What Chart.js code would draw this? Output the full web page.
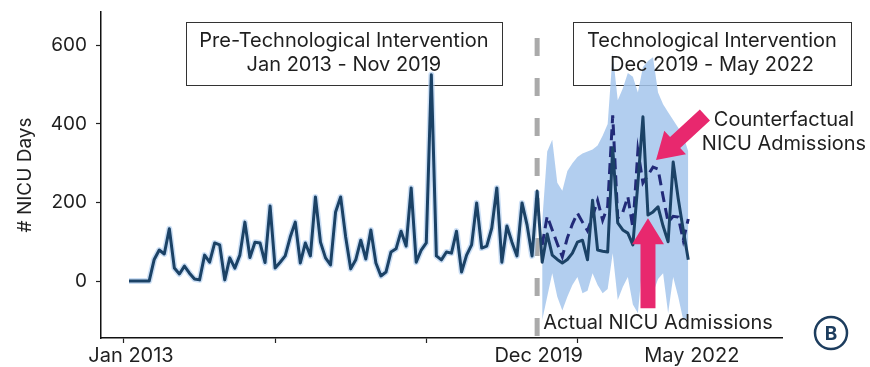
<!DOCTYPE html>
<html>
<head>
<meta charset="utf-8">
<script src="https://cdn.jsdelivr.net/npm/chart.js@4.4.1/dist/chart.umd.min.js"></script>
<style>
  html, body { margin: 0; padding: 0; background: #ffffff; }
  #wrap { width: 870px; height: 367px; }
</style>
</head>
<body>
<div id="wrap"><canvas id="nicu" width="870" height="367"></canvas></div>
<script>
// Monthly NICU days, index 0 = Jan 2013
const actualDays = [
  0, 0, 0, 0, 0, 55, 79, 69, 133, 33,
  18, 38, 20, 5, 3, 66, 48, 97, 92, 3,
  59, 33, 66, 150, 60, 99, 97, 47, 191, 33,
  48, 64, 112, 150, 46, 97, 64, 214, 99, 59,
  41, 176, 214, 112, 31, 54, 104, 56, 130, 46,
  13, 23, 74, 82, 127, 89, 237, 48, 79, 97,
  525, 64, 54, 74, 71, 127, 23, 66, 92, 199,
  84, 89, 135, 237, 48, 140, 99, 64, 199, 143,
  64, 229,
  // technological intervention period
  48, 120, 66, 55, 46, 55, 71, 99, 104, 54,
  206, 79, 76, 74, 339, 148, 130, 122, 92, 250,
  418, 168, 176, 189, 140, 100, 303, 210, 130, 54
];

// First month of the intervention period (index into actualDays)
const forecastStart = 82;
// Last month before the intervention
const interventionIndex = 81;

// Counterfactual forecast and its interval, from forecastStart on
const counterfactualDays = [
  92, 165, 130, 95, 62, 110, 145, 173, 150, 128,
  165, 205, 155, 190, 422, 160, 175, 215, 136, 332,
  250, 270, 290, 285, 215, 150, 165, 163, 104, 158
];
const counterfactualUpper = [
  150, 330, 360, 250, 230, 280, 300, 316, 325, 330,
  335, 345, 370, 400, 580, 460, 490, 530, 520, 480,
  545, 560, 570, 480, 450, 430, 410, 390, 370, 330
];
const counterfactualLower = [
  -100, -40, 20, -40, -75, -40, -10, 10, -31, -25,
  20, -10, -31, -20, 71, -48, -15, 10, -60, -82,
  54, -20, -31, 5, 20, -82, 10, -40, -99, -95
];

// Axis ticks and date labels
const yTickValues = [0, 200, 400, 600];
const xTickValues = [-1, 29, 59, 89];
const dateLabels = ['Jan 2013', 'Dec 2019', 'May 2022'];
const dateLabelMonths = [0.4, 81.3, 111.7];

const FONT = 'Inter, "Noto Sans", sans-serif';
const TEXT = '#1f1f1f';
const PINK = '#e8286e';

const toPoints = (values, start) => values.map((v, i) => ({ x: start + i, y: v }));

// Period boxes (x in months, y in NICU days)
const periodBoxes = [
  { x0: 11.3, x1: 74, lines: ['Pre-Technological Intervention', 'Jan 2013 - Nov 2019'] },
  { x0: 88.1, x1: 143.3, lines: ['Technological Intervention', 'Dec 2019 - May 2022'] }
];
const boxTop = 660, boxBottom = 499;

const annotations = {
  id: 'annotations',
  beforeDatasetsDraw(chart) {
    const { ctx, scales: { x, y } } = chart;
    ctx.save();

    // Intervention start marker
    const px = x.getPixelForValue(interventionIndex);
    ctx.strokeStyle = '#aaaaaa';
    ctx.lineWidth = 5;
    ctx.setLineDash([18, 22]);
    ctx.beginPath();
    ctx.moveTo(px, 38);
    ctx.lineTo(px, y.bottom);
    ctx.stroke();
    ctx.setLineDash([]);

    // Box frames sit under the data
    periodBoxes.forEach(b => {
      const l = x.getPixelForValue(b.x0), r = x.getPixelForValue(b.x1);
      const t = y.getPixelForValue(boxTop), btm = y.getPixelForValue(boxBottom);
      ctx.strokeStyle = '#333333';
      ctx.lineWidth = 1;
      ctx.strokeRect(Math.round(l) + 0.5, Math.round(t) + 0.5, Math.round(r - l), Math.round(btm - t));
    });
    ctx.restore();
  },
  afterDatasetsDraw(chart) {
    const { ctx, scales: { x, y } } = chart;
    ctx.save();
    ctx.textAlign = 'center';
    ctx.textBaseline = 'middle';

    periodBoxes.forEach(b => {
      const l = x.getPixelForValue(b.x0), r = x.getPixelForValue(b.x1);
      const t = y.getPixelForValue(boxTop);
      const cx = (l + r) / 2;
      ctx.fillStyle = TEXT;
      ctx.font = '20px ' + FONT;
      ctx.fillText(b.lines[0], cx, t + 19);
      ctx.fillText(b.lines[1], cx, t + 43);
    });

    // Block arrows
    const arrow = (tipX, tipY, tailX, tailY) => {
      const x1 = x.getPixelForValue(tipX), y1 = y.getPixelForValue(tipY);
      const x0 = x.getPixelForValue(tailX), y0 = y.getPixelForValue(tailY);
      const dx = x1 - x0, dy = y1 - y0, len = Math.hypot(dx, dy);
      const ux = dx / len, uy = dy / len, nx = -uy, ny = ux;
      const head = 26, hw = 16, sw = 7.5;
      const bx = x1 - ux * head, by = y1 - uy * head;
      ctx.fillStyle = PINK;
      ctx.beginPath();
      ctx.moveTo(x0 + nx * sw, y0 + ny * sw);
      ctx.lineTo(bx + nx * sw, by + ny * sw);
      ctx.lineTo(bx + nx * hw, by + ny * hw);
      ctx.lineTo(x1, y1);
      ctx.lineTo(bx - nx * hw, by - ny * hw);
      ctx.lineTo(bx - nx * sw, by - ny * sw);
      ctx.lineTo(x0 - nx * sw, y0 - ny * sw);
      ctx.closePath();
      ctx.fill();
    };
    arrow(104.6, 308, 114.3, 423);
    arrow(103.0, 160, 103.0, -69);

    ctx.fillStyle = TEXT;
    ctx.font = '20px ' + FONT;
    ctx.fillText('Counterfactual', 784, 120);
    ctx.fillText('NICU Admissions', 784, 144);
    ctx.fillText('Actual NICU Admissions', 658, 323);

    // Date labels under the axis
    dateLabels.forEach((lab, i) => {
      ctx.fillText(lab, x.getPixelForValue(dateLabelMonths[i]), 356);
    });

    // Panel letter
    ctx.strokeStyle = '#1d3d5e';
    ctx.lineWidth = 2.5;
    ctx.beginPath();
    ctx.arc(831, 333, 16, 0, Math.PI * 2);
    ctx.stroke();
    ctx.fillStyle = '#1d3d5e';
    ctx.font = 'bold 19px ' + FONT;
    ctx.fillText('B', 831, 334);
    ctx.restore();
  }
};

new Chart(document.getElementById('nicu'), {
  type: 'line',
  data: {
    datasets: [
      {
        label: 'Actual NICU Admissions',
        data: toPoints(actualDays, 0),
        borderColor: '#1b4266',
        borderWidth: 3,
        borderJoinStyle: 'round',
        pointRadius: 0,
        tension: 0,
        fill: false,
        order: 1
      },
      {
        label: 'Counterfactual NICU Admissions',
        data: toPoints(counterfactualDays, forecastStart),
        borderColor: '#222a78',
        borderWidth: 3,
        borderDash: [11, 6],
        pointRadius: 0,
        tension: 0,
        fill: false,
        order: 2
      },
      {
        label: 'fit',
        data: toPoints(actualDays.slice(0, forecastStart), 0),
        borderColor: 'rgba(170,202,238,0.6)',
        borderWidth: 6,
        borderJoinStyle: 'round',
        pointRadius: 0,
        tension: 0,
        fill: false,
        order: 3
      },
      {
        label: 'lower',
        data: toPoints(counterfactualLower, forecastStart),
        borderWidth: 0,
        borderColor: 'rgba(0,0,0,0)',
        pointRadius: 0,
        tension: 0,
        fill: false,
        order: 5
      },
      {
        label: 'upper',
        data: toPoints(counterfactualUpper, forecastStart),
        borderWidth: 0,
        borderColor: 'rgba(0,0,0,0)',
        backgroundColor: 'rgba(164,198,236,0.85)',
        pointRadius: 0,
        tension: 0,
        fill: '-1',
        order: 4
      }
    ]
  },
  options: {
    responsive: false,
    animation: false,
    events: [],
    layout: { padding: { top: 12, right: 88, left: 0, bottom: 0 } },
    plugins: { legend: { display: false }, tooltip: { enabled: false } },
    scales: {
      x: {
        type: 'linear',
        min: -5.56,
        max: 129.6,
        afterBuildTicks: s => { s.ticks = xTickValues.map(v => ({ value: v })); },
        afterFit: s => { s.height = 29; s.paddingLeft = 0; s.paddingRight = 0; },
        grid: { display: true, drawOnChartArea: false, drawTicks: true, tickLength: 5, tickColor: '#222', tickWidth: 1.2 },
        border: { display: true, color: '#111', width: 1.5 },
        ticks: { callback: () => '', font: { size: 18, family: FONT } }
      },
      y: {
        min: -145,
        max: 685,
        afterBuildTicks: s => { s.ticks = yTickValues.map(v => ({ value: v })); },
        afterFit: s => { s.width = 101; s.paddingTop = 0; s.paddingBottom = 0; },
        grid: { display: true, drawOnChartArea: false, drawTicks: true, tickLength: 5, tickColor: '#222', tickWidth: 1.2 },
        border: { display: true, color: '#111', width: 1.5 },
        ticks: { color: TEXT, padding: 9, font: { size: 19, family: FONT } },
        title: {
          display: true,
          text: '# NICU Days',
          color: TEXT,
          font: { size: 19, family: FONT },
          padding: { top: 14, bottom: 0 }
        }
      }
    }
  },
  plugins: [annotations]
});
</script>
</body>
</html>
